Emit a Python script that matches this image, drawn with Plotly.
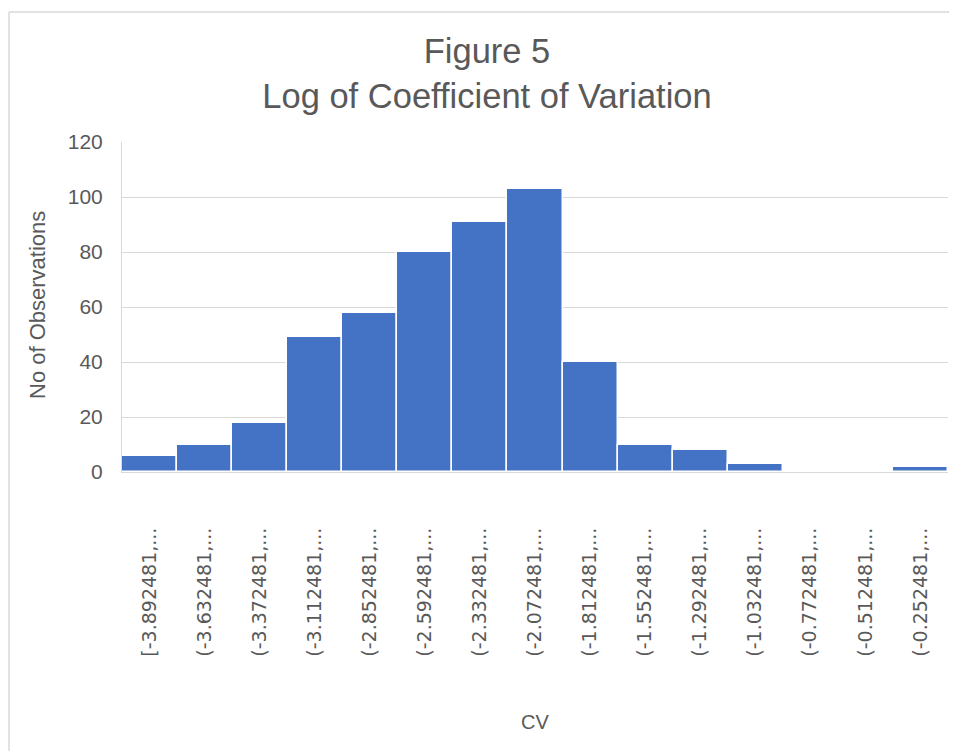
import plotly.graph_objects as go

# Histogram bins (left edges) and counts
bin_starts = [-3.892481, -3.632481, -3.372481, -3.112481, -2.852481,
              -2.592481, -2.332481, -2.072481, -1.812481, -1.552481,
              -1.292481, -1.032481, -0.772481, -0.512481, -0.252481]
counts = [6, 10, 18, 49, 58, 80, 91, 103, 40, 10, 8, 3, 0, 0, 2]
tick_labels = [("[" if i == 0 else "(") + f"{b:.6f},..." for i, b in enumerate(bin_starts)]

# page body has an 8px margin, so work in screen pixels minus that offset
OFF = 8
W, H = 957 - OFF, 751 - OFF
L, T = 122 - OFF, 142 - OFF
R = W - (948 - OFF)
B = H - (472 - OFF)
plot_w = W - L - R
plot_h = H - T - B


def px_x(sx):
    return (sx - OFF - L) / plot_w


def px_y(sy):
    return (H - B - (sy - OFF)) / plot_h


grey = "#595959"

fig = go.Figure(
    go.Bar(
        x=tick_labels,
        y=counts,
        marker=dict(color="#4472C4", line=dict(color="white", width=1.5)),
    )
)

fig.update_layout(
    width=W,
    height=H,
    margin=dict(l=L, r=R, t=T, b=B),
    paper_bgcolor="white",
    plot_bgcolor="white",
    bargap=0,
    showlegend=False,
    title=dict(
        text="Figure 5<br>Log of Coefficient of Variation",
        x=(487 - OFF) / W,
        xref="container",
        xanchor="center",
        y=1 - 55 / H,
        yref="container",
        yanchor="top",
        font=dict(family="Liberation Sans", size=34.5, color=grey),
    ),
    font=dict(family="Liberation Sans", color=grey),
)

fig.update_xaxes(
    type="category",
    tickangle=-90,
    tickfont=dict(family="DejaVu Sans", size=19, color=grey),
    ticklabelstandoff=47,
    showline=True,
    linecolor="#d9d9d9",
    linewidth=1,
    showgrid=False,
    ticks="",
)

fig.update_yaxes(
    range=[0, 120],
    dtick=20,
    tickfont=dict(family="Liberation Sans", size=21, color=grey),
    ticklabelstandoff=14,
    showgrid=True,
    gridcolor="#d9d9d9",
    gridwidth=1,
    showline=True,
    linecolor="#d9d9d9",
    zeroline=False,
    ticks="",
)

# axis titles
fig.add_annotation(
    text="No of Observations", textangle=-90,
    xref="paper", yref="paper", x=px_x(37), y=px_y(305),
    xanchor="center", yanchor="middle",
    showarrow=False, font=dict(family="Liberation Sans", size=22, color=grey),
)
fig.add_annotation(
    text="CV",
    xref="paper", yref="paper", x=px_x(535), y=px_y(722),
    xanchor="center", yanchor="middle",
    showarrow=False, font=dict(family="Liberation Sans", size=20, color=grey),
)

# chart area border (top and left edges only, the rest is outside the view)
border = dict(color="#d9d9d9", width=1.5)
fig.add_shape(type="line", xref="paper", yref="paper",
              x0=px_x(9), x1=px_x(960), y0=px_y(12), y1=px_y(12), line=border)
fig.add_shape(type="line", xref="paper", yref="paper",
              x0=px_x(9), x1=px_x(9), y0=px_y(12), y1=px_y(760), line=border)

fig.write_html("out.html")
